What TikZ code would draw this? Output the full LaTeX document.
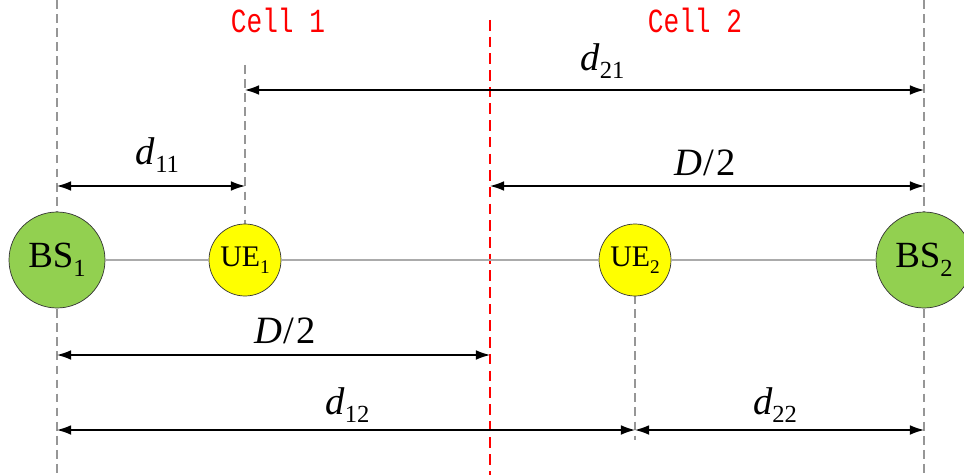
\documentclass[tikz,border=0pt]{standalone}
\usepackage{fontspec}
\setmainfont{Liberation Serif}
\newfontfamily\cellfont{Liberation Mono}
\usetikzlibrary{arrows.meta, positioning, calc}
\definecolor{bsgreen}{RGB}{146, 208, 80}
\definecolor{ueyellow}{RGB}{255, 255, 0}
\definecolor{guidegray}{RGB}{150, 150, 150}
\definecolor{cellred}{RGB}{255, 0, 0}
\newcommand{\dlbl}[2]{{\itshape #1}\raisebox{-0.45ex}{\fontsize{14}{14}\selectfont #2}}
\newcommand{\cellname}[1]{\scalebox{0.93}[1.2]{#1}}
\tikzset{
  bsnode/.style={circle, draw=black!80, fill=bsgreen, minimum size=1.92cm, inner sep=0pt,
                 font=\fontsize{21}{21}\selectfont},
  uenode/.style={circle, draw=black!80, fill=ueyellow, minimum size=1.44cm, inner sep=0pt,
                 font=\fontsize{17}{17}\selectfont},
  guide/.style={guidegray, line width=0.7pt, dash pattern=on 5pt off 3pt},
  border/.style={cellred, line width=0.8pt, dash pattern=on 6pt off 3.5pt},
  link/.style={guidegray!80, line width=0.6pt},
  arrow/.style={>={Latex[length=8pt, width=5.5pt]}, <->, line width=0.7pt, black},
  dimlabel/.style={font=\fontsize{22}{22}\selectfont, inner sep=0pt},
  celllabel/.style={font=\cellfont\fontsize{16}{16}\selectfont, text=cellred},
}
\begin{document}
\begin{tikzpicture}
  \useasboundingbox (0,0) rectangle (19.28,-9.5);
  % guide lines
  \draw[guide] (1.14,0) -- (1.14,-9.5);
  \draw[guide] (18.48,0) -- (18.48,-9.5);
  \draw[guide] (4.9,-1.3) -- (4.9,-4.5);
  \draw[guide] (12.7,-5.9) -- (12.7,-8.8);
  \draw[border] (9.8,-0.4) -- (9.8,-9.5);
  % cells
  \node[celllabel] (cell1) at (5.56,-0.4) {\cellname{Cell 1}};
  \node[celllabel] (cell2) at (13.9,-0.4) {\cellname{Cell 2}};
  % stations and users
  \node[bsnode] (bs1) at (1.14,-5.2) {BS\raisebox{-0.5ex}{\fontsize{14}{14}\selectfont 1}};
  \node[uenode] (ue1) at (4.9,-5.2) {UE\raisebox{-0.5ex}{\fontsize{11}{11}\selectfont 1}};
  \node[uenode] (ue2) at (12.7,-5.2) {UE\raisebox{-0.5ex}{\fontsize{11}{11}\selectfont 2}};
  \node[bsnode] (bs2) at (18.48,-5.2) {BS\raisebox{-0.5ex}{\fontsize{14}{14}\selectfont 2}};
  \draw[link] (bs1) -- (ue1);
  \draw[link] (ue1) -- (ue2);
  \draw[link] (ue2) -- (bs2);
  % levels of the distance arrows
  \coordinate (row21) at (0,-1.8);
  \coordinate (row11) at (0,-3.72);
  \coordinate (rowhalf) at (0,-7.1);
  \coordinate (row12) at (0,-8.6);
  \coordinate (mid) at (9.8,0);
  \draw[arrow] (ue1 |- row21) -- (bs2 |- row21);
  \draw[arrow] (bs1 |- row11) -- (ue1 |- row11);
  \draw[arrow] (mid |- row11) -- (bs2 |- row11);
  \draw[arrow] (bs1 |- rowhalf) -- (mid |- rowhalf);
  \draw[arrow] (bs1 |- row12) -- (ue2 |- row12);
  \draw[arrow] (ue2 |- row12) -- (bs2 |- row12);
  % labels
  \node[dimlabel] (l21) at (12.05,-1.22) {\dlbl{d}{21}};
  \node[dimlabel] (l11) at (3.15,-3.1) {\dlbl{d}{11}};
  \node[dimlabel] (lhalf1) at (14.1,-3.25) {\textit{D}\kern1pt/\kern1pt2};
  \node[dimlabel] (lhalf2) at (5.7,-6.62) {\textit{D}\kern1pt/\kern1pt2};
  \node[dimlabel] (l12) at (6.95,-8.1) {\dlbl{d}{12}};
  \node[dimlabel] (l22) at (15.5,-8.1) {\dlbl{d}{22}};
\end{tikzpicture}
\end{document}
